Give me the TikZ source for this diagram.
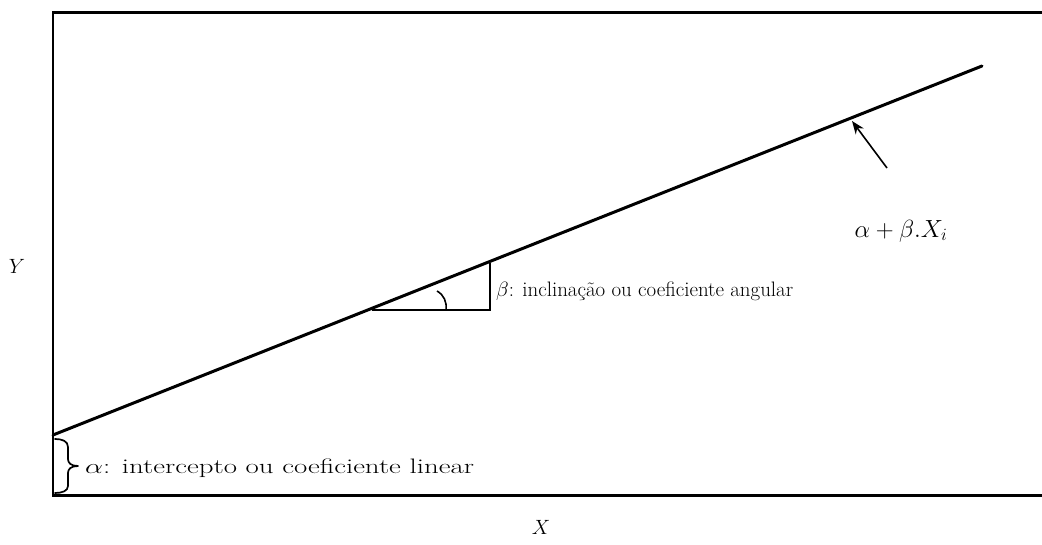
\documentclass[tikz,border=0pt]{standalone}
\usetikzlibrary{arrows.meta}
\begin{document}
\begin{tikzpicture}[x=1bp,y=-1bp,
  lbl/.style={inner sep=0pt,font=\fontsize{21}{24}\selectfont},
  frame/.style={line width=2.2bp},
  regline/.style={line width=3bp,line cap=round},
  thin/.style={line width=1.6bp}]
\useasboundingbox (0,0) rectangle (1042,545);
% frame (right side outside the picture)
\draw[frame] (1050,12.5) -- (53,12.5) -- (53,495.5) -- (1050,495.5);
% regression line
\coordinate (A) at (53,435);
\coordinate (B) at (982,66);
\draw[regline] (A) -- (B);
% slope triangle
\coordinate (T1) at (372,310);
\coordinate (T2) at (490,310);
\coordinate (T3) at (490,263);
\draw[thin] (T1) -- (T2) -- (T3);
\draw[thin] (446,310) .. controls (447,302) and (444,295) .. (437,291);
% labels
\node[lbl,anchor=west] (beta) at (496,291) {$\beta$: inclinação ou coeficiente angular};
\node[lbl,anchor=west] (alpha) at (85,468) {\scalebox{1.38}[1]{$\alpha$: intercepto ou coeficiente linear}};
\node[lbl,font=\fontsize{25}{28}\selectfont] (eq) at (901,231) {$\alpha + \beta.X_i$};
\node[lbl] (Y) at (17,266) {$Y$};
\node[lbl] (X) at (541,527) {$X$};
% arrow
\coordinate (tail) at (887,168);
\coordinate (tip) at (852,121);
\draw[thin,-{Stealth[length=13bp,width=10bp]}] (tail) -- (tip);
% brace
\draw[line width=1.7bp,line cap=round,line join=round]
  (55,439) .. controls (62,439) and (68,441) .. (68,447)
  -- (68,459) .. controls (68,463) and (71,466) .. (78,466)
  .. controls (71,466) and (68,469) .. (68,473)
  -- (68,486) .. controls (68,491) and (62,493) .. (55,493);
\end{tikzpicture}
\end{document}
